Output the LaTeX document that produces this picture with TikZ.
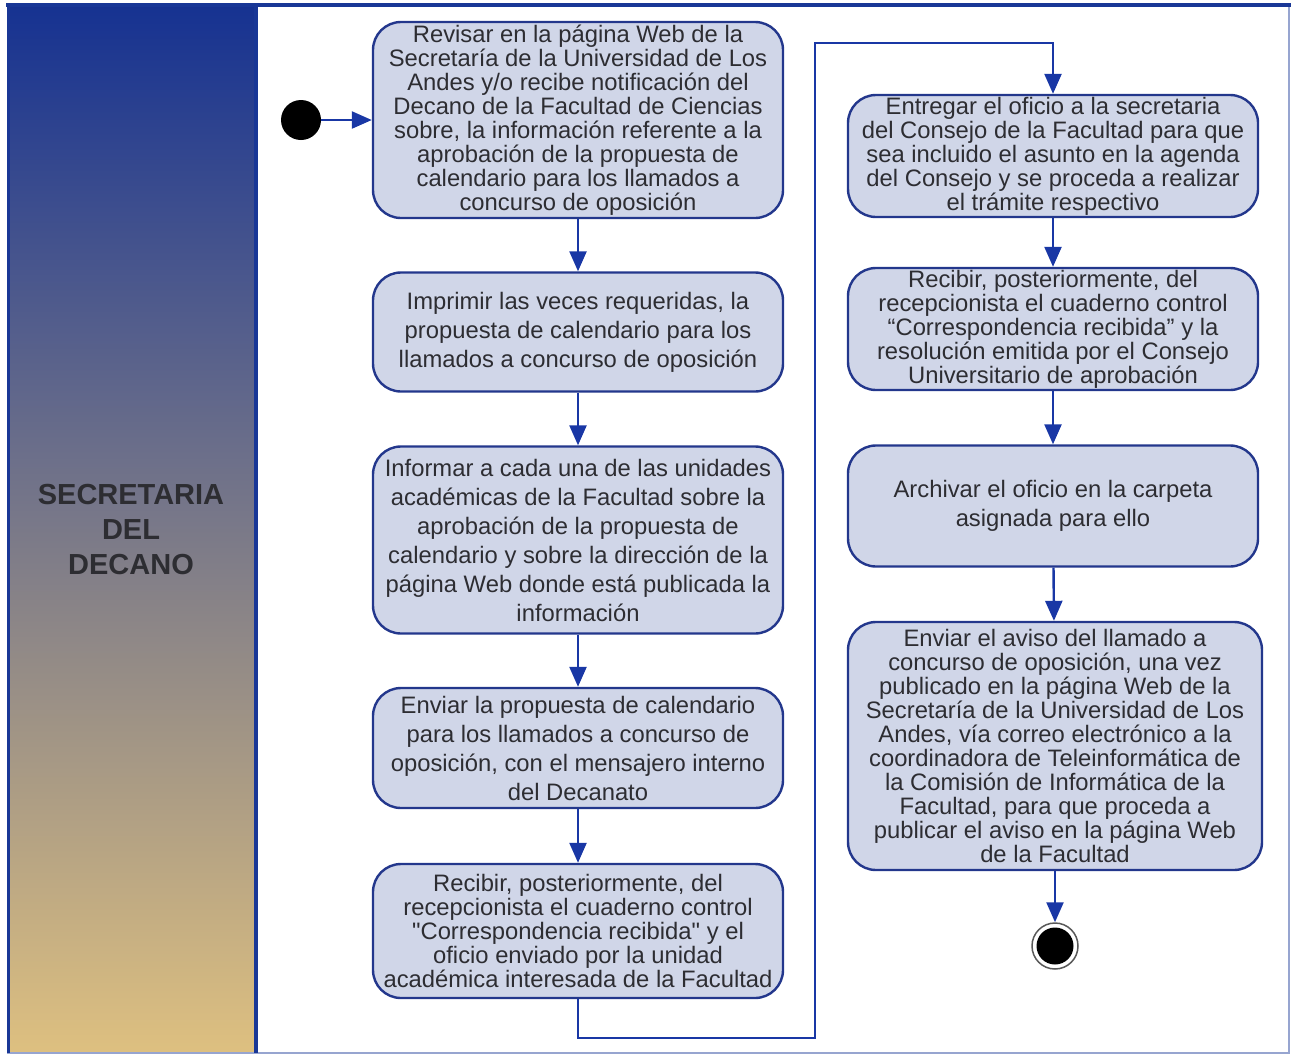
\documentclass[tikz,border=0pt]{standalone}
\usepackage{fontspec}
\setmainfont{Liberation Sans}[Ligatures=TeXOff]
\usetikzlibrary{arrows.meta}
\definecolor{lanetop}{RGB}{22,50,145}
\definecolor{lanebottom}{RGB}{222,192,128}
\definecolor{framenavy}{RGB}{25,55,150}
\definecolor{actfill}{RGB}{208,214,232}
\definecolor{actborder}{RGB}{35,55,140}
\definecolor{flowblue}{RGB}{25,55,165}
\definecolor{inktext}{RGB}{45,45,50}

\tikzset{
  activity/.style={draw=actborder, line width=2.4pt, fill=actfill, rounded corners=28pt,
    minimum width=410pt, inner sep=0pt, align=center, text=inktext,
    font=\fontsize{23.8}{24}\selectfont},
  loose/.style={font=\fontsize{23.8}{29}\selectfont},
  flow/.style={draw=flowblue, line width=2.4pt, -{Triangle[length=20pt,width=17pt]}},
}

\begin{document}
\begin{tikzpicture}[x=1pt,y=-1pt]
            \useasboundingbox (0,0) rectangle (1295,1055);
            % swimlane and frame
            \shade[top color=lanetop, bottom color=lanebottom] (8,5) rectangle (256,1053);
            \draw[framenavy!45, line width=2pt] (8,5) rectangle (1289,1053);
            \draw[framenavy, line width=4pt] (6,5) -- (1291,5);
            \draw[framenavy, line width=3pt] (8,5) -- (8,1053);
            \draw[framenavy, line width=3.5pt] (256,5) -- (256,1053);
            \node[font=\bfseries\fontsize{29}{35}\selectfont, text=inktext, align=center] (lane) at (131,530) {SECRETARIA\\DEL\\DECANO};

            % left column
            \node[circle, fill=black, minimum size=40pt, inner sep=0pt] (start) at (301,120) {};
            \node[activity, minimum height=196pt] (revisar) at (578,120) {Revisar en la página Web de la\\Secretaría de la Universidad de Los\\Andes y/o recibe notificación del\\Decano de la Facultad de Ciencias\\sobre, la información referente a la\\aprobación de la propuesta de\\calendario para los llamados a\\concurso de oposición};
            \node[activity, loose, minimum height=119pt] (imprimir) at (578,332) {Imprimir las veces requeridas, la\\propuesta de calendario para los\\llamados a concurso de oposición};
            \node[activity, loose, minimum height=187pt] (informar) at (578,540) {Informar a cada una de las unidades\\académicas de la Facultad sobre la\\aprobación de la propuesta de\\calendario y sobre la dirección de la\\página Web donde está publicada la\\información};
            \node[activity, loose, minimum height=120pt] (enviar) at (578,748) {Enviar la propuesta de calendario\\para los llamados a concurso de\\oposición, con el mensajero interno\\del Decanato};
            \node[activity, minimum height=134pt] (recibir) at (578,931) {Recibir, posteriormente, del\\recepcionista el cuaderno control\\"Correspondencia recibida" y el\\oficio enviado por la unidad\\académica interesada de la Facultad};

            % right column
            \node[activity, minimum height=122pt] (entregar) at (1053,156) {Entregar el oficio a la secretaria\\del Consejo de la Facultad para que\\sea incluido el asunto en la agenda\\del Consejo y se proceda a realizar\\el trámite respectivo};
            \node[activity, minimum height=122pt] (resolucion) at (1053,329) {Recibir, posteriormente, del\\recepcionista el cuaderno control\\“Correspondencia recibida” y la\\resolución emitida por el Consejo\\Universitario de aprobación};
            \node[activity, loose, minimum height=121pt] (archivar) at (1053,506) {Archivar el oficio en la carpeta\\asignada para ello};
            \node[activity, minimum width=414pt, minimum height=248pt] (aviso) at (1055,746) {Enviar el aviso del llamado a\\concurso de oposición, una vez\\publicado en la página Web de la\\Secretaría de la Universidad de Los\\Andes, vía correo electrónico a la\\coordinadora de Teleinformática de\\la Comisión de Informática de la\\Facultad, para que proceda a\\publicar el aviso en la página Web\\de la Facultad};
            \node[circle, draw=black!65, line width=1.5pt, fill=white, minimum size=46pt, inner sep=0pt] (stop) at (1055,946) {};
            \node[circle, fill=black, minimum size=37pt, inner sep=0pt] (stopdot) at (stop) {};

            % flow
            \draw[flow] (start) -- (revisar);
            \draw[flow] (revisar) -- (imprimir);
            \draw[flow] (imprimir) -- (informar);
            \draw[flow] (informar) -- (enviar);
            \draw[flow] (enviar) -- (recibir);
            \coordinate (lowturn) at (815,1038);
            \coordinate (highturn) at (815,43);
            \draw[flow] (recibir.south) |- (lowturn) -- (highturn) -| (entregar.north);
            \draw[flow] (entregar) -- (resolucion);
            \draw[flow] (resolucion) -- (archivar);
            \draw[flow] (archivar) -- (aviso);
            \draw[flow] (aviso) -- (stop);
        \end{tikzpicture}
\end{document}
